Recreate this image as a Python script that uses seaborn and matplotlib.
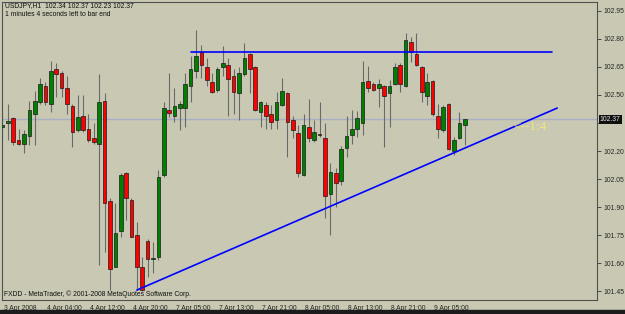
import numpy as np
import pandas as pd
import seaborn as sns
import matplotlib.pyplot as plt
import matplotlib.transforms as mtransforms

# USDJPY H1 candles
opens = [102.33, 102.35, 102.375, 102.26, 102.24, 102.28, 102.40, 102.46, 102.55, 102.45,
         102.64, 102.62, 102.54, 102.44, 102.31, 102.39, 102.32, 102.27, 102.24, 102.47,
         101.93, 101.58, 101.77, 102.08, 101.94, 101.75, 101.58, 101.72, 101.62, 101.63,
         102.07, 102.42, 102.39, 102.43, 102.43, 102.55, 102.63, 102.73, 102.65, 102.57,
         102.525, 102.65, 102.66, 102.60, 102.51, 102.61, 102.72, 102.65, 102.41, 102.445,
         102.40, 102.365, 102.445, 102.51, 102.365, 102.295, 102.07, 102.33, 102.26, 102.29,
         102.27, 101.97, 102.08, 102.04, 102.215, 102.285, 102.32, 102.35, 102.575, 102.56,
         102.54, 102.55, 102.51, 102.56, 102.66, 102.55, 102.785, 102.72, 102.65, 102.495,
         102.575, 102.39, 102.31, 102.45, 102.20, 102.27, 102.34]
highs = [102.42, 102.45, 102.38, 102.32, 102.31, 102.47, 102.52, 102.59, 102.57, 102.68,
         102.67, 102.63, 102.60, 102.45, 102.50, 102.50, 102.40, 102.35, 102.61, 102.51,
         101.95, 101.92, 102.08, 102.085, 101.95, 101.82, 101.63, 101.73, 101.71, 102.10,
         102.46, 102.62, 102.54, 102.47, 102.62, 102.71, 102.85, 102.77, 102.70, 102.62,
         102.65, 102.76, 102.70, 102.64, 102.65, 102.78, 102.725, 102.655, 102.47, 102.46,
         102.445, 102.515, 102.59, 102.515, 102.39, 102.34, 102.40, 102.48, 102.365, 102.46,
         102.35, 102.135, 102.11, 102.225, 102.39, 102.42, 102.415, 102.68, 102.655, 102.57,
         102.585, 102.555, 102.58, 102.67, 102.67, 102.83, 102.81, 102.83, 102.655, 102.62,
         102.58, 102.45, 102.445, 102.455, 102.275, 102.41, 102.37]
lows = [102.26, 102.26, 102.23, 102.23, 102.19, 102.23, 102.23, 102.45, 102.445, 102.41,
        102.49, 102.49, 102.40, 102.22, 102.30, 102.30, 102.25, 102.24, 101.59, 101.66,
        101.455, 101.58, 101.74, 101.83, 101.74, 101.455, 101.45, 101.525, 101.545, 101.615,
        102.06, 102.38, 102.355, 102.31, 102.33, 102.46, 102.59, 102.59, 102.55, 102.51,
        102.515, 102.60, 102.39, 102.40, 102.365, 102.60, 102.51, 102.415, 102.33, 102.32,
        102.32, 102.32, 102.44, 102.17, 102.27, 102.06, 102.065, 102.25, 102.25, 102.275,
        101.84, 101.75, 101.90, 102.02, 102.17, 102.24, 102.275, 102.285, 102.515, 102.52,
        102.435, 102.22, 102.33, 102.555, 102.515, 102.545, 102.675, 102.655, 102.46, 102.445,
        102.385, 102.27, 102.30, 102.205, 102.18, 102.265, 102.23]
closes = [102.34, 102.36, 102.25, 102.24, 102.29, 102.42, 102.47, 102.56, 102.46, 102.63,
          102.61, 102.54, 102.45, 102.30, 102.38, 102.31, 102.26, 102.25, 102.46, 101.92,
          101.57, 101.76, 102.07, 101.95, 101.74, 101.58, 101.455, 101.62, 101.625, 102.06,
          102.43, 102.405, 102.44, 102.45, 102.56, 102.64, 102.71, 102.66, 102.58, 102.515,
          102.64, 102.67, 102.585, 102.515, 102.62, 102.70, 102.64, 102.42, 102.46, 102.39,
          102.355, 102.46, 102.52, 102.355, 102.31, 102.08, 102.34, 102.27, 102.30, 102.285,
          101.96, 102.09, 102.03, 102.21, 102.28, 102.32, 102.375, 102.57, 102.54, 102.525,
          102.56, 102.495, 102.55, 102.65, 102.56, 102.795, 102.73, 102.66, 102.515, 102.57,
          102.40, 102.32, 102.435, 102.21, 102.26, 102.35, 102.37]

time_tick_bars = [0, 8, 16, 24, 32, 40, 48, 56, 64, 72, 80]
time_tick_labels = ["3 Apr 2008", "4 Apr 04:00", "4 Apr 12:00", "4 Apr 20:00", "7 Apr 05:00",
                    "7 Apr 13:00", "7 Apr 21:00", "8 Apr 05:00", "8 Apr 13:00", "8 Apr 21:00",
                    "9 Apr 05:00"]
price_ticks = [101.45, 101.60, 101.75, 101.90, 102.05, 102.20, 102.35, 102.50, 102.65, 102.80, 102.95]
price_tick_labels = ["101.45", "101.60", "101.75", "101.90", "102.05", "102.20", "",
                     "102.50", "102.65", "102.80", "102.95"]
bid_price = 102.37

resistance_bars = [35, 102.2]
resistance_prices = [102.73, 102.73]
support_bars = [25, 103.2]
support_prices = [101.455, 102.43]

df = pd.DataFrame({"open": opens, "high": highs, "low": lows, "close": closes})
df["bar"] = np.arange(len(df))
df["up"] = df["close"] >= df["open"]

bg = "#c9c9b3"
sns.set_style("white")
plt.rcParams["font.family"] = ["Liberation Sans", "DejaVu Sans"]
fs = 4.9

fig = plt.figure(figsize=(6.25, 3.14), dpi=100, facecolor=bg)
ax = fig.add_axes([2 / 625, 1 - 300 / 314, 595 / 625, 298 / 314])
ax.set_facecolor(bg)

# bid line
ax.axhline(bid_price, color="#a8aec4", lw=1.0, zorder=1)

# wicks
ax.vlines(df["bar"], df["low"], df["high"], color="#6a6a6a", lw=0.8, zorder=2)

# bodies
body_bottom = df[["open", "close"]].min(axis=1)
body_h = (df["close"] - df["open"]).abs().clip(lower=0.004)
colors = np.where(df["up"], "#008000", "#ff0000")
ax.bar(df["bar"], body_h, bottom=body_bottom, width=0.66, color=colors,
       edgecolor="#1a1a1a", linewidth=0.5, zorder=3)

# trend lines
sns.lineplot(x=resistance_bars, y=resistance_prices, ax=ax, color="#0000ff", lw=1.2, zorder=4)
sns.lineplot(x=support_bars, y=support_prices, ax=ax, color="#0000ff", lw=1.2, zorder=4)

ax.text(95, 102.33, "<--1:4", color="#f0e878", fontsize=9.5, family="Liberation Serif",
        va="center", ha="left", zorder=5)

ax.set_xlim(-0.09, 110.6)
ax.set_ylim(101.402, 102.998)

for s in ax.spines.values():
    s.set_color("#505050")
    s.set_linewidth(0.8)

ax.yaxis.tick_right()
ax.set_yticks(price_ticks)
ax.set_yticklabels(price_tick_labels)
ax.tick_params(axis="y", direction="out", length=3, width=0.6, color="#303030",
               labelsize=fs, pad=1.5, right=True, left=False)
ax.set_xticks(time_tick_bars)
ax.set_xticklabels(time_tick_labels)
ax.tick_params(axis="x", direction="out", length=3, width=0.6, color="#303030",
               labelsize=fs, pad=0.5)
offset = mtransforms.ScaledTranslation(1.5 / 100, 0, fig.dpi_scale_trans)
for lbl in ax.get_xticklabels():
    lbl.set_horizontalalignment("left")
    lbl.set_transform(lbl.get_transform() + offset)

ax.annotate(f"{bid_price:.2f}", xy=(1.0, bid_price), xycoords=("axes fraction", "data"),
            xytext=(2, 0), textcoords="offset points", va="center", ha="left",
            fontsize=fs, color="#e8e8e8",
            bbox=dict(boxstyle="square,pad=0.15", fc="#101010", ec="none"))

fig.text(5 / 625, 1 - 5.5 / 314, "USDJPY,H1  102.34 102.37 102.23 102.37",
         fontsize=fs, va="center", ha="left", color="#101010")
fig.text(5 / 625, 1 - 14 / 314, "1 minutes 4 seconds left to bar end",
         fontsize=fs, va="center", ha="left", color="#101010")
fig.text(4 / 625, 1 - 294 / 314, "FXDD - MetaTrader, \u00a9 2001-2008 MetaQuotes Software Corp.",
         fontsize=fs, va="center", ha="left", color="#101010")

# dark strip at the very bottom
fig.patches.append(plt.Rectangle((0, 0), 1, 4 / 314, transform=fig.transFigure,
                                 color="#1c1c1c", zorder=0))

fig.savefig("out.png", dpi=100, facecolor=bg)
